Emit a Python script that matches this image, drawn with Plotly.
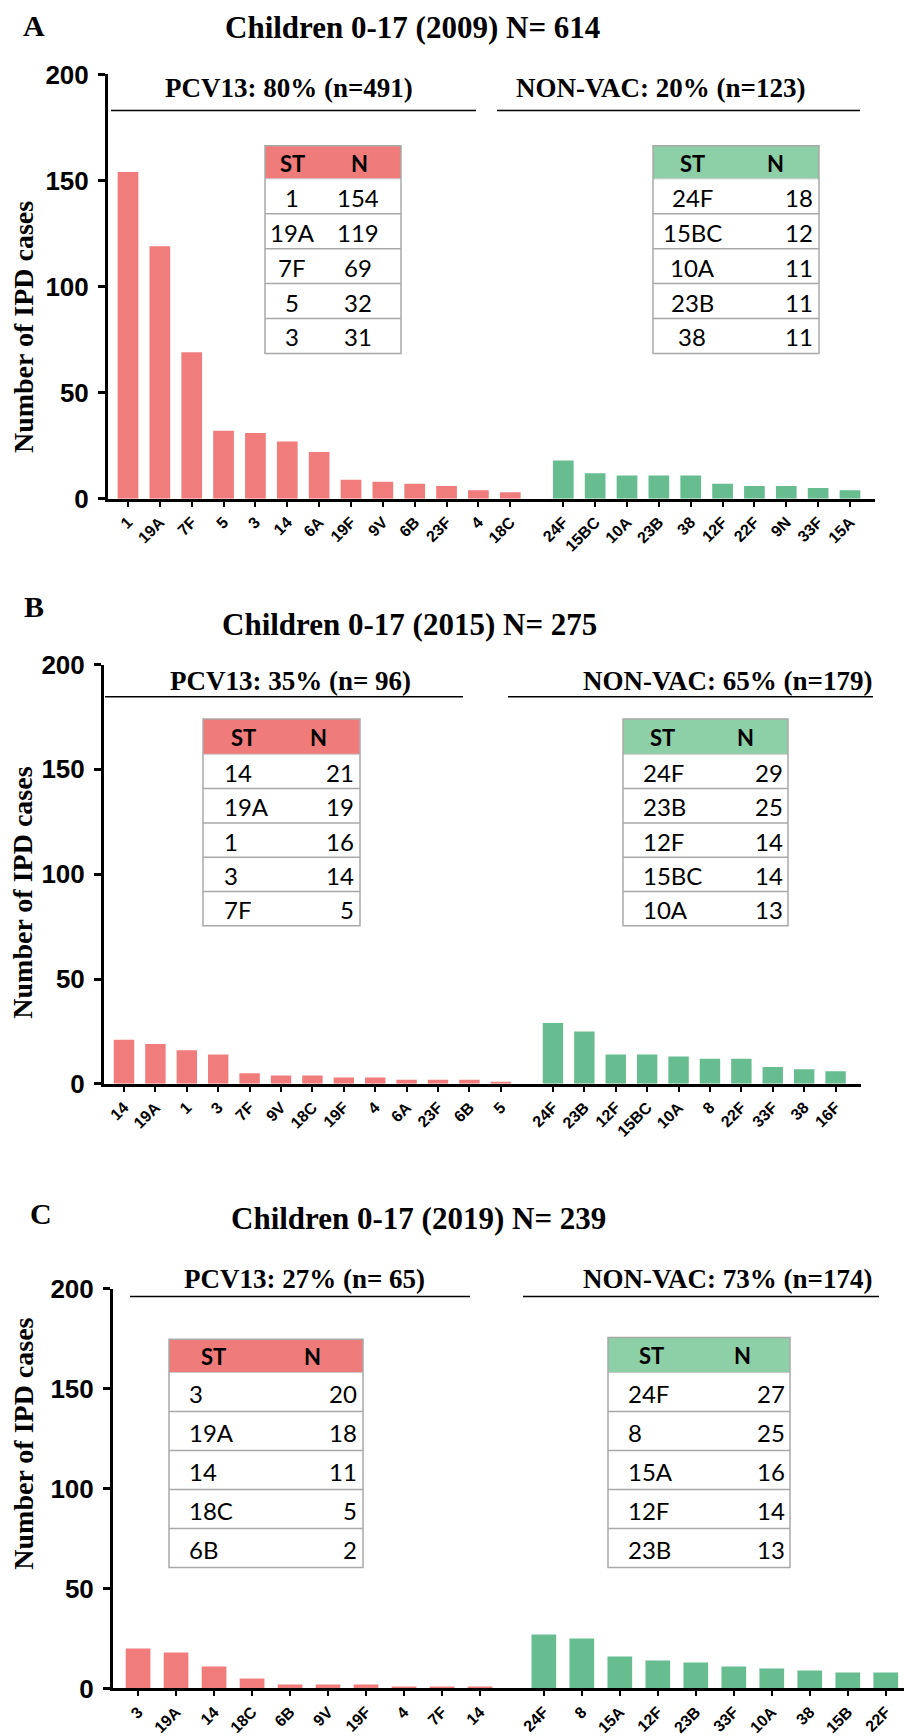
import plotly.graph_objects as go

W, H = 904, 1736

# ---------------- data ----------------
# Panel A: 2009
a_pcv_st = ["1", "19A", "7F", "5", "3", "14", "6A", "19F", "9V", "6B", "23F", "4", "18C"]
a_pcv_n = [154, 119, 69, 32, 31, 27, 22, 9, 8, 7, 6, 4, 3]
a_nv_st = ["24F", "15BC", "10A", "23B", "38", "12F", "22F", "9N", "33F", "15A"]
a_nv_n = [18, 12, 11, 11, 11, 7, 6, 6, 5, 4]

# Panel B: 2015
b_pcv_st = ["14", "19A", "1", "3", "7F", "9V", "18C", "19F", "4", "6A", "23F", "6B", "5"]
b_pcv_n = [21, 19, 16, 14, 5, 4, 4, 3, 3, 2, 2, 2, 1]
b_nv_st = ["24F", "23B", "12F", "15BC", "10A", "8", "22F", "33F", "38", "16F"]
b_nv_n = [29, 25, 14, 14, 13, 12, 12, 8, 7, 6]

# Panel C: 2019
c_pcv_st = ["3", "19A", "14", "18C", "6B", "9V", "19F", "4", "7F", "14"]
c_pcv_n = [20, 18, 11, 5, 2, 2, 2, 1, 1, 1]
c_nv_st = ["24F", "8", "15A", "12F", "23B", "33F", "10A", "38", "15B", "22F"]
c_nv_n = [27, 25, 16, 14, 13, 11, 10, 9, 8, 8]

panel_letters = ["A", "B", "C"]
panel_titles = ["Children 0-17 (2009) N= 614",
                "Children 0-17 (2015) N= 275",
                "Children 0-17 (2019) N= 239"]
pcv_labels = ["PCV13: 80% (n=491)", "PCV13: 35% (n= 96)", "PCV13: 27% (n= 65)"]
nv_labels = ["NON-VAC: 20% (n=123)", "NON-VAC: 65% (n=179)", "NON-VAC: 73% (n=174)"]
y_ticks = [0, 50, 100, 150, 200]
table_header = ["ST", "N"]
TOP = 5

# ---------------- style ----------------
RED = "#F07C7C"
GREEN = "#67BD8F"
RED_HEAD = "#F07B7B"
GREEN_HEAD = "#8DCFA6"
RULE_GRAY = "#A9A9A9"
SERIF = "Liberation Serif"
SANS = "Liberation Sans"
TABLE_FONT = "Lato"


def fx(px):
    return px / W


def fy(py):
    return 1 - py / H


# Pixel geometry of each panel.  Table spec: box, header/row heights,
# header label x positions, and (x, anchor) for the ST and N columns.
layouts = [
    dict(pcv_st=a_pcv_st, pcv_n=a_pcv_n, nv_st=a_nv_st, nv_n=a_nv_n,
         axis_x=(108, 875), axis_y=(61, 496), xr=(-0.628, 23.45), gap=1.665,
         letter=(34, 11), title=(412, 13), ytitle=(23, 320),
         pcv_text=(289, 75), pcv_line=(111, 476, 98),
         nv_text=(660, 75), nv_line=(497, 860, 98),
         t1=dict(box=(265, 401, 134, 347), head_h=34, row_h=35.8, head_x=(292, 359),
                 st=(292, "center"), n=(358, "center")),
         t2=dict(box=(653, 819, 134, 347), head_h=34, row_h=35.8, head_x=(692, 775),
                 st=(692, "center"), n=(815, "right"))),
    dict(pcv_st=b_pcv_st, pcv_n=b_pcv_n, nv_st=b_nv_st, nv_n=b_nv_n,
         axis_x=(104, 861), axis_y=(666, 1096), xr=(-0.637, 23.47), gap=1.66,
         letter=(34, 607), title=(409, 625), ytitle=(23, 900),
         pcv_text=(290, 683), pcv_line=(105, 463, 699),
         nv_text=(727, 683), nv_line=(508, 873, 699),
         t1=dict(box=(203, 360, 722, 934), head_h=36, row_h=35.2, head_x=(243, 318),
                 st=(222, "left"), n=(356, "right")),
         t2=dict(box=(623, 788, 722, 934), head_h=36, row_h=35.2, head_x=(662, 745),
                 st=(641, "left"), n=(785, "right"))),
    dict(pcv_st=c_pcv_st, pcv_n=c_pcv_n, nv_st=c_nv_st, nv_n=c_nv_n,
         axis_x=(113, 904), axis_y=(1306, 1716), xr=(-0.66, 20.16), gap=1.68,
         letter=(41, 1229), title=(418, 1234), ytitle=(24, 1465),
         pcv_text=(304, 1296), pcv_line=(130, 470, 1314),
         nv_text=(727, 1296), nv_line=(523, 879, 1314),
         t1=dict(box=(169, 363, 1358, 1592), head_h=34, row_h=40, head_x=(213, 312),
                 st=(187, "left"), n=(359, "right")),
         t2=dict(box=(608, 790, 1356, 1592), head_h=36, row_h=40, head_x=(651, 742),
                 st=(626, "left"), n=(787, "right"))),
]

fig = go.Figure()
annotations = []
shapes = []


def text_at(x, y, txt, size, family, anchor="center", angle=0, bold=True):
    annotations.append(dict(x=fx(x), y=fy(y), xref="paper", yref="paper",
                            text=("<b>%s</b>" % txt) if bold else txt,
                            showarrow=False, textangle=angle,
                            xanchor=anchor, yanchor="middle",
                            font=dict(family=family, size=size, color="black")))


def draw_table(t, st, n, head_color):
    x0, x1, y0, y1 = t["box"]
    hh, rh = t["head_h"], t["row_h"]
    shapes.append(dict(type="rect", xref="paper", yref="paper", layer="above",
                       x0=fx(x0), x1=fx(x1), y0=fy(y0), y1=fy(y0 + hh),
                       fillcolor=head_color, line=dict(width=0)))
    for i in range(1, TOP):
        yy = y0 + hh + i * rh
        shapes.append(dict(type="line", xref="paper", yref="paper", layer="above",
                           x0=fx(x0), x1=fx(x1), y0=fy(yy), y1=fy(yy),
                           line=dict(color=RULE_GRAY, width=1.5)))
    shapes.append(dict(type="line", xref="paper", yref="paper", layer="above",
                       x0=fx(x0), x1=fx(x1), y0=fy(y0 + hh), y1=fy(y0 + hh),
                       line=dict(color="#C9C9C9", width=1)))
    shapes.append(dict(type="rect", xref="paper", yref="paper", layer="above",
                       x0=fx(x0), x1=fx(x1), y0=fy(y0), y1=fy(y0 + hh + TOP * rh),
                       line=dict(color=RULE_GRAY, width=1.5)))
    hy = y0 + hh / 2 + 1
    text_at(t["head_x"][0], hy, table_header[0], 22, TABLE_FONT)
    text_at(t["head_x"][1], hy, table_header[1], 22, TABLE_FONT)
    for i in range(TOP):
        ry = y0 + hh + (i + 0.5) * rh + 1
        text_at(t["st"][0], ry, st[i], 24, TABLE_FONT, anchor=t["st"][1], bold=False)
        text_at(t["n"][0], ry, str(n[i]), 24, TABLE_FONT, anchor=t["n"][1], bold=False)


for k, p in enumerate(layouts):
    sfx = "" if k == 0 else str(k + 1)
    xs_pcv = list(range(len(p["pcv_n"])))
    start_nv = len(p["pcv_n"]) - 1 + p["gap"]
    xs_nv = [start_nv + j for j in range(len(p["nv_n"]))]

    fig.add_trace(go.Bar(x=xs_pcv, y=p["pcv_n"], width=0.65,
                         marker=dict(color=RED, line=dict(width=0)),
                         xaxis="x" + sfx, yaxis="y" + sfx, showlegend=False))
    fig.add_trace(go.Bar(x=xs_nv, y=p["nv_n"], width=0.65,
                         marker=dict(color=GREEN, line=dict(width=0)),
                         xaxis="x" + sfx, yaxis="y" + sfx, showlegend=False))

    x0, x1 = p["axis_x"]
    ytop, ybot = p["axis_y"]
    fig.update_layout(**{
        "xaxis" + sfx: dict(
            domain=[fx(x0), fx(x1)], range=list(p["xr"]), anchor="y" + sfx,
            tickmode="array", tickvals=xs_pcv + xs_nv, ticktext=p["pcv_st"] + p["nv_st"],
            tickangle=-45, ticks="outside", ticklen=5, tickwidth=2, tickcolor="black",
            showline=True, linewidth=3, linecolor="black",
            showgrid=False, zeroline=False,
            tickfont=dict(family=SANS, size=16, color="black", weight="bold")),
        "yaxis" + sfx: dict(
            domain=[fy(ybot), fy(ytop)], range=[0, 200], anchor="x" + sfx,
            tickmode="array", tickvals=y_ticks,
            ticks="outside", ticklen=7, tickwidth=3, tickcolor="black",
            showline=True, linewidth=3, linecolor="black",
            showgrid=False, zeroline=False, ticklabelstandoff=4,
            tickfont=dict(family=SANS, size=26, color="black", weight="bold")),
    })

    # top-five tables for each group
    draw_table(p["t1"], p["pcv_st"], p["pcv_n"], RED_HEAD)
    draw_table(p["t2"], p["nv_st"], p["nv_n"], GREEN_HEAD)

    # panel letter, title, y-axis title
    text_at(p["letter"][0], p["letter"][1], panel_letters[k], 30, SERIF)
    text_at(p["title"][0], p["title"][1], panel_titles[k], 31, SERIF)
    text_at(p["ytitle"][0], p["ytitle"][1], "Number of IPD cases", 28, SERIF, angle=-90)

    # group headings with underline rules
    for txt, pos, ln in ((pcv_labels[k], p["pcv_text"], p["pcv_line"]),
                         (nv_labels[k], p["nv_text"], p["nv_line"])):
        text_at(pos[0], pos[1], txt, 27, SERIF)
        shapes.append(dict(type="line", xref="paper", yref="paper",
                           x0=fx(ln[0]), x1=fx(ln[1]), y0=fy(ln[2]), y1=fy(ln[2]),
                           line=dict(color="black", width=1.5)))

fig.update_layout(
    width=W, height=H,
    margin=dict(l=0, r=0, t=0, b=0),
    paper_bgcolor="white", plot_bgcolor="white",
    annotations=annotations, shapes=shapes,
)

fig.write_html("out.html")
